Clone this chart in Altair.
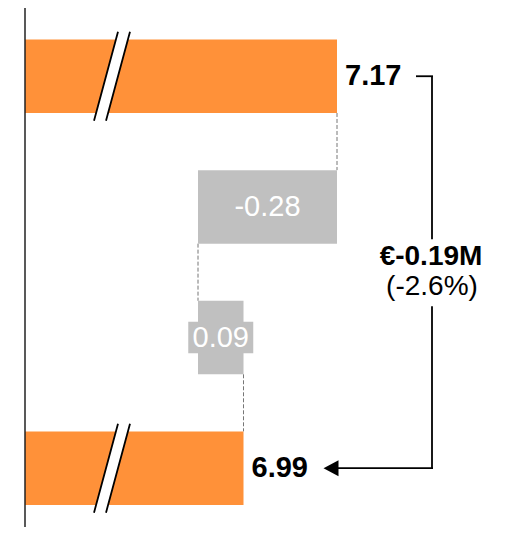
import altair as alt
import pandas as pd

# ---- data ----
steps = ["Start", "Change 1", "Change 2", "End"]
kinds = ["total", "delta", "delta", "total"]
start_value = 7.174
deltas = [-0.278, 0.091]
end_value = start_value + sum(deltas)

# ---- styling constants ----
ORANGE = "#FF9139"
GRAY = "#C0C0C0"
FONT = "Liberation Sans"
FS = 29
AXIS_BASE = 6.55      # where the (broken) bars start
BREAK_AT = 6.724      # where the break marks are drawn
BAR_H = 73.5

# ---- build tables ----
rows = []
cum = start_value
rows.append(dict(idx=0, step=steps[0], kind="total", x=AXIS_BASE, x2=start_value, value=start_value))
for i, d in enumerate(deltas, start=1):
    rows.append(dict(idx=i, step=steps[i], kind="delta", x=cum, x2=cum + d, value=d))
    cum += d
rows.append(dict(idx=3, step=steps[3], kind="total", x=AXIS_BASE, x2=end_value, value=end_value))
bars = pd.DataFrame(rows)
bars["label"] = bars["value"].map(lambda v: f"{v:.2f}")
bars["mid"] = (bars["x"] + bars["x2"]) / 2

conn = pd.DataFrame([
    dict(idx=r["idx"], nxt=r["idx"] + 1, x=r["x2"]) for _, r in bars.iloc[:-1].iterrows()
])

change = end_value - start_value
pct = change / start_value * 100
summary = pd.DataFrame([dict(
    x=start_value, xe=end_value, y0=0, ymid=1.5, y3=3,
    t1=f"€{change:.2f}M", t2=f"({pct:.1f}%)")])

xs = alt.Scale(domain=[6.516, 7.502], nice=False, zero=False)
ys = alt.Scale(domain=[-0.484, 3.412], nice=False, zero=False, reverse=True)

X = lambda f: alt.X(f, type="quantitative", scale=xs, axis=None)
Y = lambda f: alt.Y(f, type="quantitative", scale=ys, axis=None)

base = alt.Chart(bars)

bar_layer = base.mark_bar(size=BAR_H).encode(
    x=X("x"), x2="x2", y=Y("idx"),
    color=alt.Color("kind:N", scale=alt.Scale(domain=["total", "delta"], range=[ORANGE, GRAY]), legend=None),
)

axis_line = alt.Chart(pd.DataFrame({"x": [AXIS_BASE]})).mark_rule(color="#222", strokeWidth=1.5).encode(x=X("x"))

conn_layer = alt.Chart(conn).mark_rule(color="#777", strokeDash=[4, 2], strokeWidth=1,
                                        yOffset=BAR_H / 2, y2Offset=-BAR_H / 2).encode(
    x=X("x"), y=Y("idx"), y2="nxt")

brk = pd.DataFrame({"x": [BREAK_AT, BREAK_AT], "idx": [0, 3]})
brk_fill = alt.Chart(brk).mark_point(
    shape="M0.12,-0.89L0.36,-0.89L-0.12,0.89L-0.36,0.89Z", size=10000,
    filled=True, color="white", opacity=1, strokeWidth=0).encode(x=X("x"), y=Y("idx"))
brk_lines = alt.Chart(brk).mark_point(
    shape="M0.12,-0.89L-0.36,0.89M0.36,-0.89L-0.12,0.89", size=10000,
    filled=False, color="black", opacity=1, strokeWidth=1.8).encode(x=X("x"), y=Y("idx"))

delta_bars = base.transform_filter(alt.datum.kind == "delta")
label_bg = delta_bars.mark_point(
    shape="M-1,-0.486L1,-0.486L1,0.486L-1,0.486Z", size=4225,
    filled=True, color=GRAY, opacity=1, strokeWidth=0).encode(x=X("mid"), y=Y("idx"))
delta_text = delta_bars.mark_text(font=FONT, fontSize=FS, color="white", align="center",
                                  baseline="middle").encode(x=X("mid"), y=Y("idx"), text="label")

total_text = base.transform_filter(alt.datum.kind == "total").mark_text(
    font=FONT, fontSize=FS, fontWeight="bold", color="black", align="left", baseline="middle", dx=8
).encode(x=X("x2"), y=Y("idx"), text="label")

s = alt.Chart(summary)
top_h = s.mark_rule(color="black", strokeWidth=1.8, xOffset=79, x2Offset=96).encode(
    x=X("x"), x2="x", y=Y("y0"))
vert_up = s.mark_rule(color="black", strokeWidth=1.8, xOffset=95, x2Offset=95, y2Offset=-33).encode(
    x=X("x"), y=Y("y0"), y2="ymid")
vert_dn = s.mark_rule(color="black", strokeWidth=1.8, xOffset=95, x2Offset=95, yOffset=34).encode(
    x=X("x"), y=Y("ymid"), y2="y3")
bot_h = s.mark_rule(color="black", strokeWidth=1.8, xOffset=96, x2Offset=88).encode(
    x=X("x"), x2="xe", y=Y("y3"))
arrow = s.mark_point(shape="M0,0L2,-1.07L2,1.07Z", size=225, filled=True, color="black",
                     opacity=1, strokeWidth=0, xOffset=80).encode(x=X("xe"), y=Y("y3"))
t1 = s.mark_text(font=FONT, fontSize=28, fontWeight="bold", color="black", align="center",
                 baseline="alphabetic", dx=94, dy=-7).encode(x=X("x"), y=Y("ymid"), text="t1")
t2 = s.mark_text(font=FONT, fontSize=28, color="black", align="center",
                 baseline="alphabetic", dx=95, dy=23).encode(x=X("x"), y=Y("ymid"), text="t2")

chart = alt.layer(
    conn_layer, bar_layer, axis_line, brk_fill, brk_lines, label_bg, delta_text, total_text,
    top_h, vert_up, vert_dn, bot_h, arrow, t1, t2
).properties(
    width=493, height=519, padding=0, autosize=alt.AutoSizeParams(type="none"), background="white"
).configure_view(stroke=None)

chart.save("out.html", embed_options={"renderer": "svg", "actions": False})
